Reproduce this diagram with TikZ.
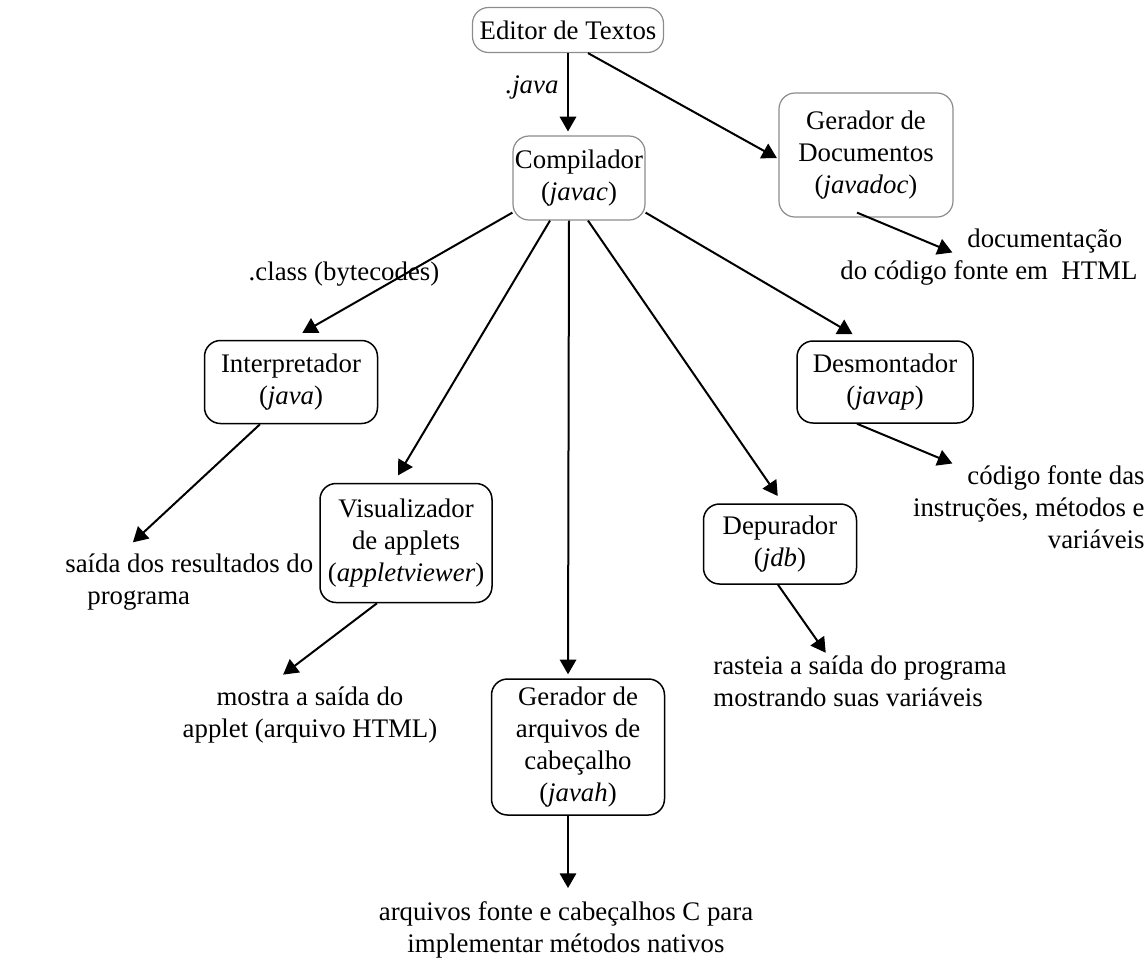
\documentclass[tikz,border=0pt]{standalone}
\usepackage{fontspec}
\setmainfont{Liberation Serif}
\usetikzlibrary{arrows}

\begin{document}
\begin{tikzpicture}[x=0.5pt,y=-0.5pt,
  every node/.style={font=\fontsize{13.4}{16}\selectfont},
  box/.style={draw,rounded corners=8pt,align=center,inner sep=0pt,line width=0.75pt},
  softbox/.style={box,draw=black!45,line width=0.6pt},
  result/.style={inner sep=0pt},
  arr/.style={-triangle 60,line width=1pt,shorten >=2pt}]

\useasboundingbox (0,0) rectangle (1148,960);

\node[softbox,minimum width=95.5pt,minimum height=22.5pt] (ed) at (568,30) {Editor de Textos};
\node[softbox,minimum width=66pt,minimum height=42pt] (comp) at (579,178) {Compilador\\(\textit{javac})};
\node[softbox,minimum width=87pt,minimum height=62pt] (doc) at (866,155) {Gerador de\\Documentos\\(\textit{javadoc})};
\node[box,minimum width=86.5pt,minimum height=41.5pt] (interp) at (291,382) {Interpretador\\(\textit{java})};
\node[box,minimum width=86pt,minimum height=59.5pt] (viewer) at (406,543) {Visualizador\\de applets\\(\textit{appletviewer})};
\node[box,minimum width=86.5pt,minimum height=68pt] (hdr) at (578,747) {Gerador de\\arquivos de\\cabeçalho\\(\textit{javah})};
\node[box,minimum width=76.5pt,minimum height=40pt] (dbg) at (780,544) {Depurador\\(\textit{jdb})};
\node[box,minimum width=88pt,minimum height=41pt] (dis) at (885,382) {Desmontador\\(\textit{javap})};

\node[result] (jv) at (532,87) {\textit{.java}};
\node[result] (cls) at (344,274) {.class (bytecodes)};
\node[result,align=left,anchor=north west] (docout) at (840,228) {\hspace*{63.5pt}documentação\\do código fonte em~ HTML};
\node[result,align=left,anchor=north west] (interpout) at (65,553) {saída dos resultados do\\\hspace*{11pt}programa};
\node[result,align=center,anchor=north] (viewout) at (310,686) {mostra a saída do\\applet (arquivo HTML)};
\node[result,align=center,anchor=north] (hdrout) at (566,901) {arquivos fonte e cabeçalhos C para\\implementar métodos nativos};
\node[result,align=left,anchor=north west] (dbgout) at (713,655) {rasteia a saída do programa\\mostrando suas variáveis};
\node[result,align=right,anchor=north east] (disout) at (1145,465) {código fonte das\\instruções, métodos e\\variáveis};

\draw[arr] (ed.south) -- (ed.south |- comp.north);
\draw[arr] ([xshift=10pt]ed.south) -- ([shift={(2,5)}]doc.west);
\draw[arr] ([shift={(-9,-5)}]doc.south) -- ([shift={(116,26)}]docout.north west);
\draw[arr] ([yshift=4pt]comp.south west) -- ([shift={(8,-5)}]interp.north);
\draw[arr] ([xshift=-14.5pt]comp.south) -- ([shift={(-10,-4)}]viewer.north);
\draw[arr] ([xshift=-5pt]comp.south) -- ([xshift=-5pt]hdr.north);
\draw[arr] ([xshift=4.5pt]comp.south) -- ([shift={(0,-4)}]dbg.north);
\draw[arr] ([yshift=4pt]comp.south east) -- ([shift={(-29,-4)}]dis.north);
\draw[arr] ([xshift=-15.5pt]interp.south) -- ([shift={(65,-8)}]interpout.north west);
\draw[arr] ([xshift=-14.5pt]viewer.south) -- ([shift={(-30,-9)}]viewout.north);
\draw[arr] ([xshift=-5pt]hdr.south) -- ([shift={(2,-9)}]hdrout.north);
\draw[arr] ([xshift=-1pt]dbg.south) -- ([shift={(115,1)}]dbgout.north west);
\draw[arr] ([xshift=-14pt]dis.south) -- ([xshift=-94.5pt]disout.north east);
\end{tikzpicture}
\end{document}
